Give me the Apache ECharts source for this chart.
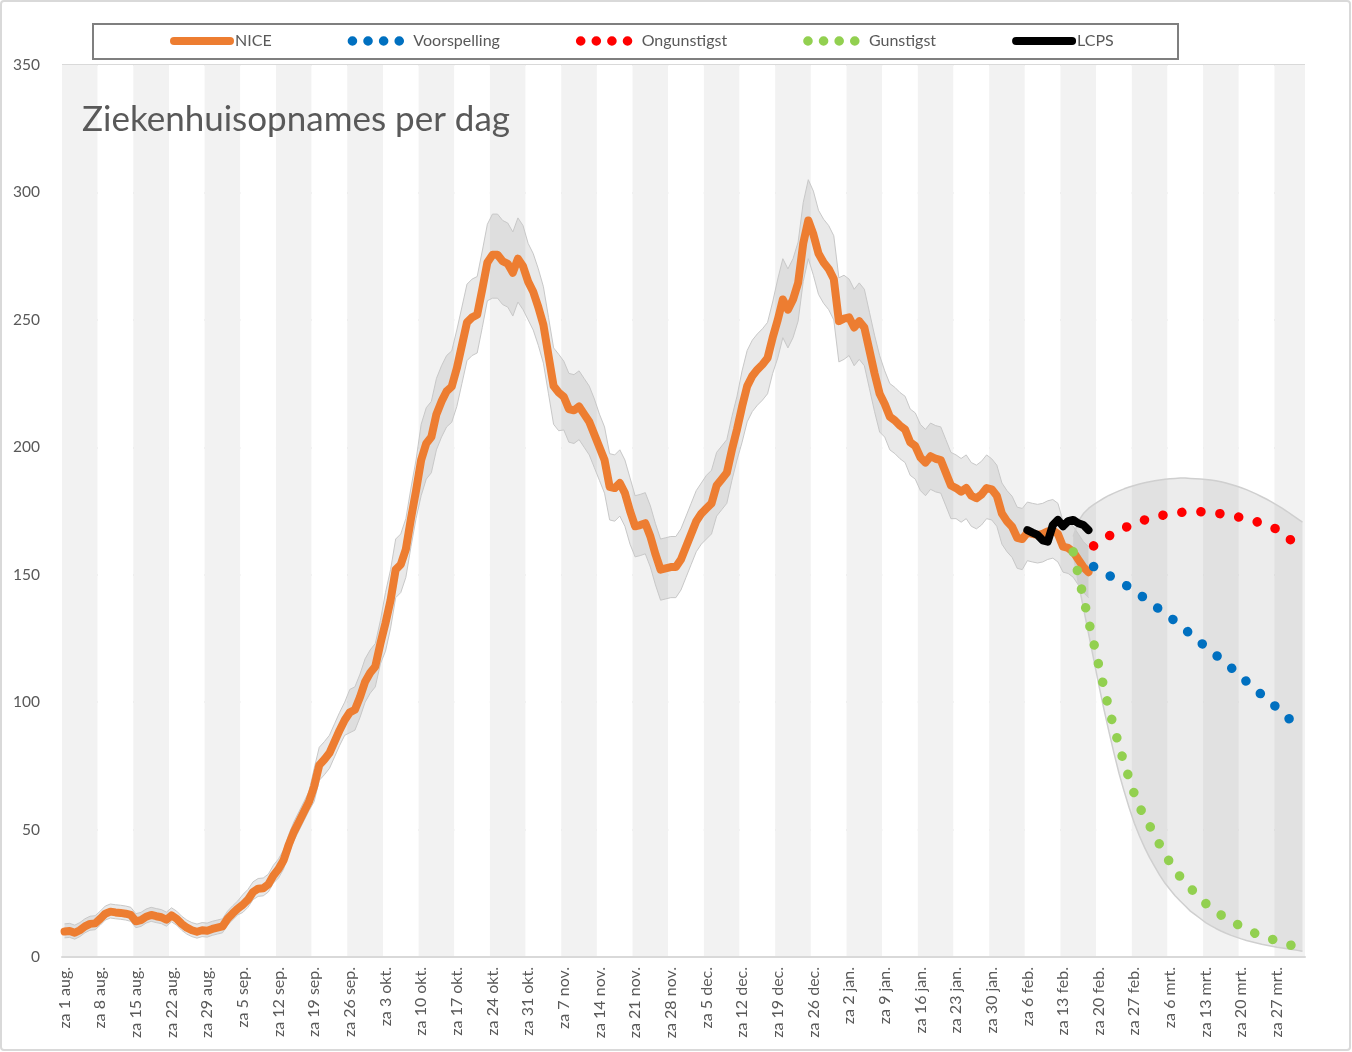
<!DOCTYPE html>
<html><head><meta charset="utf-8">
<script src="https://cdn.jsdelivr.net/npm/echarts@6/dist/echarts.min.js"></script>
<style>html,body{margin:0;padding:0;background:#fff}#c{width:1352px;height:1052px}</style>
</head><body><div id="c"></div><script>
// ---- categories ----
const startYear = 2020, startMonth = 7, startDay = 1; // za 1 aug. 2020
const dayCount = 244;
const dayNames = ['zo','ma','di','wo','do','vr','za'];
const monthNames = ['jan.','feb.','mrt.','apr.','mei','jun.','jul.','aug.','sep.','okt.','nov.','dec.'];
const yMin = 0, yMax = 350, yInterval = 50;
const seriesNames = ['NICE','Voorspelling','Ongunstigst','Gunstigst','LCPS'];
const titleText = 'Ziekenhuisopnames per dag';

// ---- NICE daily admissions (from za 1 aug.) ----
const nice = [10,10.2,9.5,10.5,12,13,13.2,15,17,17.8,17.5,17.3,17,16.5,14,14.5,15.8,16.5,16,15.6,
14.6,16.3,15,13,11.5,10.5,9.9,10.5,10.3,11,11.5,12,15,17.1,19,20.5,22.5,25.5,26.8,27,
28.5,32,34.5,38,44,49,53,57,61,67,75.3,77.5,80,84.5,89,93,96,97,102,108,
111.5,114,123,131,140,152,154,160,172,183,195,201.5,204,213,218,222,223.8,231,240,249,
251,252,262,272.5,275.5,275.5,273,272,268.5,274,271,265,261,255,248,236,224,221.5,219.8,215,
214.5,216,213,210,205,200,195,184.5,184,186,182,175,169,169.5,170.2,165,158,152,152.5,153,
153,156,161,166,171,174,176,178,185,187.5,190,199,207,216,224,228,230.5,232.5,235,243,
250,258,254,258,264.5,280,289,283.5,276,272.5,270,266,249.5,250.5,251,247,249.5,247,238,229,
221,217,212,210.5,208.5,207,202,200.5,196,194,196.5,195.5,195,190,185,184,182.6,184,181,180,
181.5,184,183.5,181,174,171,168.8,164.5,164,166.5,166,165.6,166,167,167.5,166,161,160.5,159,156,
153,151];
// uncertainty margin of the NICE band, per week (above / below the line)
const niceMarginUp   = [3,3,3,3,3,4,4,7,9,12,14,15,16,15,14,13,12,12,13,14,16,17,15,13,13,13,12,12,10];
const niceMarginDown = [2.5,2.5,2.5,2.5,2.5,3,3.5,6,8,11,14,15,17,15,13,13,12,12,12,14,15,16,15,13,13,12,12,11,10];

// ---- LCPS (from za 6 feb., day 189) ----
const lcpsStart = 189;
const lcps = [167.5,166.5,165.6,163.5,163,169.5,171.5,169,171,171.5,170.2,169.5,167.5];

// ---- forecasts ----
const forecastStart = 202;
const voorspelling = [153.2,152,150.9,149.8,148.6,147.5,146.3,145.1,143.8,142.3,140.8,139.3,137.8,136.3,134.8,133.3,131.8,130.1,128.4,126.8,
125.1,123.4,121.7,120.1,118.5,116.9,115.2,113.5,111.8,110,108.1,106.3,104.6,102.9,101.2,99.5,97.8,96,94.2,92.3,90.5,88.7];
const ongunstigst = [161.3,162.7,164,165.2,166.3,167.3,168.3,169.2,170,170.8,171.5,172.1,172.6,173.1,173.5,173.9,174.2,174.4,174.6,174.7,
174.7,174.7,174.6,174.4,174.2,173.9,173.6,173.2,172.8,172.4,171.9,171.4,170.8,170.2,169.5,168.7,167.8,166.5,165,163,160.6,158.5];
const gunstigstStart = 198;
const gunstigst = [159,150,141,132,123.5,114.5,106,97.5,90,83,76,70,64,59,55,51.5,48,44,40.5,37,
34,31.5,29,27,25,23,21,19.5,18,16.5,15,14,13,12,11,10,9,8.3,7.6,7,6.3,5.7,5,4.5,4,3.6];
// forecast uncertainty band
const bandStart = 198;
const bandLow = [158,147,137,127,117,107,97.5,88.5,80,72,65,58.5,52.5,47.5,43,39,35.5,32,29,26.5,
24,22,20,18,16.5,15,13.5,12.3,11.2,10.2,9.3,8.5,7.8,7.1,6.5,6,5.5,5,4.6,4.2,3.8,3.5,3.2,2.9,2.6,2.3];
const bandHigh = [165,171,174,176,177.5,178.8,180,181.1,182,182.9,183.7,184.4,185,185.6,186.1,186.5,186.9,187.2,187.5,187.7,
187.8,187.9,187.9,187.8,187.7,187.6,187.4,187.2,186.9,186.5,186,185.4,184.8,184.1,183.4,182.5,181.6,180.6,179.6,178.5,177.3,176.1,174.8,173.4,172,170.6];

// ---- build ----
const categories = [];
for (let i = 0; i < dayCount; i++) {
  const d = new Date(startYear, startMonth, startDay + i);
  categories.push(dayNames[d.getDay()] + ' ' + d.getDate() + ' ' + monthNames[d.getMonth()]);
}
function place(start, arr) {
  const out = new Array(dayCount).fill(null);
  arr.forEach((v, i) => { out[start + i] = v; });
  return out;
}
const niceLo = nice.map((v, i) => +(v - niceMarginDown[Math.floor(i / 7)]).toFixed(2));
const niceSpan = nice.map((v, i) => +(niceMarginUp[Math.floor(i / 7)] + niceMarginDown[Math.floor(i / 7)]).toFixed(2));
const fcSpan = bandHigh.map((v, i) => +(v - bandLow[i]).toFixed(2));

const FONT = 'Lato';
const GREY = '#595959';
const dots = (color) => ({ color: color, width: 9.5, type: [0.1, 19], cap: 'round', join: 'round' });

const chart = echarts.init(document.getElementById('c'), null, { renderer: 'canvas' });
chart.setOption({
  animation: false,
  backgroundColor: '#ffffff',
  textStyle: { fontFamily: FONT },
  title: {
    text: titleText, left: 77, top: 97,
    textStyle: { fontFamily: FONT, fontSize: 35, fontWeight: 'normal', color: GREY }
  },
  legend: {
    data: [
      { name: seriesNames[0] },
      { name: seriesNames[1], lineStyle: { type: [0.1, 15.5] } },
      { name: seriesNames[2], lineStyle: { type: [0.1, 15.5] } },
      { name: seriesNames[3], lineStyle: { type: [0.1, 15.5] } },
      { name: seriesNames[4] }
    ],
    left: 165, top: 28, itemWidth: 56, itemHeight: 12, itemGap: 76,
    lineStyle: { width: 'inherit' },
    itemStyle: { opacity: 0 },
    textStyle: { fontFamily: FONT, fontSize: 16, color: GREY },
    selectedMode: false
  },
  graphic: [
    { type: 'rect', shape: { x: 1, y: 1, width: 1349, height: 1049, r: 3 }, style: { fill: 'none', stroke: '#d9d9d9', lineWidth: 2 }, z: -1 },
    { type: 'rect', shape: { x: 93, y: 24, width: 1085, height: 35 }, style: { fill: 'none', stroke: '#7f7f7f', lineWidth: 2 }, z: 10 }
  ],
  grid: { left: 62, right: 47, top: 65, bottom: 95, containLabel: false },
  xAxis: {
    type: 'category', data: categories, boundaryGap: true,
    axisLine: { lineStyle: { color: '#d9d9d9', width: 2 } },
    axisTick: { show: false, interval: 6 },
    axisLabel: { interval: 6, rotate: 90, margin: 10, fontFamily: FONT, fontSize: 16, color: GREY },
    splitArea: { show: true, interval: 6, areaStyle: { color: ['#f2f2f2', '#ffffff'] } },
    splitLine: { show: false }
  },
  yAxis: {
    type: 'value', min: yMin, max: yMax, interval: yInterval,
    axisLine: { show: false }, axisTick: { show: false },
    axisLabel: { margin: 22, fontFamily: FONT, fontSize: 15.5, color: GREY },
    splitLine: { lineStyle: { color: '#d9d9d9', width: 2 } }
  },
  series: [
    { name: 'niceLo', type: 'line', stack: 'nb', data: place(0, niceLo), symbol: 'none', silent: true,
      lineStyle: { color: '#c8c8c8', width: 1 }, z: 2 },
    { name: 'niceBand', type: 'line', stack: 'nb', data: place(0, niceSpan), symbol: 'none', silent: true,
      lineStyle: { color: '#c8c8c8', width: 1 }, areaStyle: { color: 'rgba(150,150,150,0.3)' }, z: 2 },
    { name: 'fcLo', type: 'line', stack: 'fb', data: place(bandStart, bandLow), symbol: 'none', silent: true,
      lineStyle: { color: '#cfcfcf', width: 1.5 }, z: 2 },
    { name: 'fcBand', type: 'line', stack: 'fb', data: place(bandStart, fcSpan), symbol: 'none', silent: true,
      lineStyle: { color: '#cfcfcf', width: 1.5 }, areaStyle: { color: 'rgba(150,150,150,0.25)' }, z: 2 },
    { name: seriesNames[0], type: 'line', data: place(0, nice), symbol: 'none', color: '#ed7d31',
      lineStyle: { color: '#ed7d31', width: 8, cap: 'round', join: 'round' }, z: 3 },
    { name: seriesNames[4], type: 'line', data: place(lcpsStart, lcps), symbol: 'none', color: '#000000',
      lineStyle: { color: '#000000', width: 8, cap: 'round', join: 'round' }, z: 4 },
    { name: seriesNames[3], type: 'line', data: place(gunstigstStart, gunstigst), symbol: 'none', color: '#92d050',
      lineStyle: dots('#92d050'), z: 5 },
    { name: seriesNames[1], type: 'line', data: place(forecastStart, voorspelling), symbol: 'none', color: '#0070c0',
      lineStyle: dots('#0070c0'), z: 5 },
    { name: seriesNames[2], type: 'line', data: place(forecastStart, ongunstigst), symbol: 'none', color: '#ff0000',
      lineStyle: dots('#ff0000'), z: 5 }
  ]
});
</script></body></html>
